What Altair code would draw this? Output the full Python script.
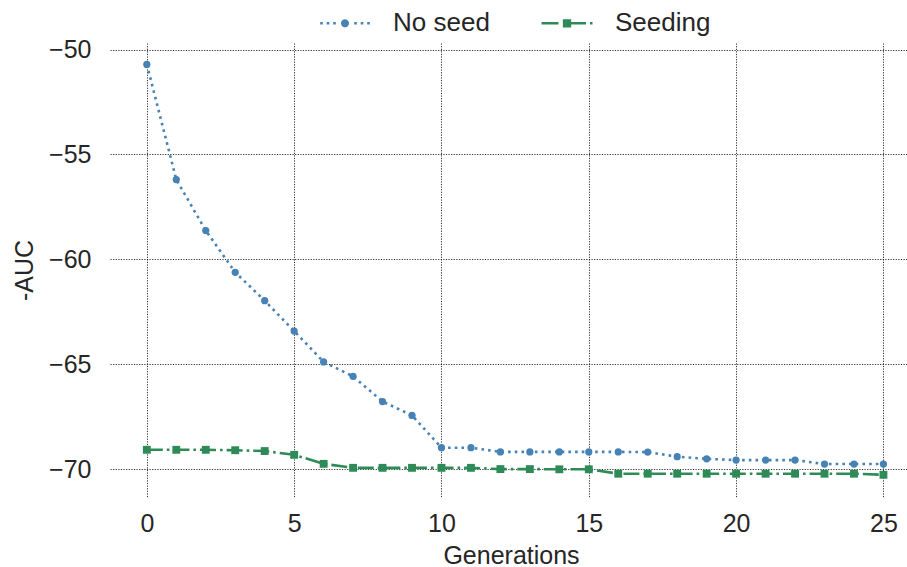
import math
import altair as alt
import pandas as pd

# ---------------- data ----------------
generations = list(range(26))
no_seed = [-50.71, -56.20, -58.63, -60.62, -61.97, -63.42, -64.89, -65.58, -66.78, -67.44,
           -68.98, -68.98, -69.18, -69.18, -69.18, -69.18, -69.18, -69.19, -69.41, -69.51,
           -69.57, -69.57, -69.57, -69.76, -69.76, -69.76]
seeding = [-69.08, -69.08, -69.08, -69.10, -69.14, -69.32, -69.75, -69.94, -69.94, -69.94,
           -69.94, -69.94, -70.00, -70.00, -70.01, -70.01, -70.22, -70.22, -70.22, -70.22,
           -70.22, -70.22, -70.22, -70.22, -70.22, -70.27]
series_names = ["No seed", "Seeding"]
x_ticks = [0, 5, 10, 15, 20, 25]
y_ticks = [-70, -65, -60, -55, -50]

df = pd.DataFrame({
    "gen": generations * 2,
    "val": no_seed + seeding,
    "series": [series_names[0]] * len(no_seed) + [series_names[1]] * len(seeding),
})

# ---------------- styles ----------------
FONT = "Liberation Sans"
TXT = "#262626"
colors = ["#4682b4", "#2e8b57"]
dashes = [[2.6, 4.1], [16, 4, 2.6, 4]]

# legend glyphs (line + marker) as SVG paths in unit space (half width 1 = 26 px)
U = 26.0


def rect(x0, x1, h):
    return "M{:.4f},{:.4f}L{:.4f},{:.4f}L{:.4f},{:.4f}L{:.4f},{:.4f}Z".format(
        x0 / U, -h / U, x1 / U, -h / U, x1 / U, h / U, x0 / U, h / U)


def circ(r, n=24):
    pts = []
    for i in range(n):
        a = 2 * math.pi * i / n
        pts.append((r * math.cos(a) / U, r * math.sin(a) / U))
    s = "M{:.4f},{:.4f}".format(*pts[0])
    for p in pts[1:]:
        s += "L{:.4f},{:.4f}".format(*p)
    return s + "Z"


path_no = "".join(rect(c - 1.3, c + 1.3, 1.3) for c in [-23.5, -17, -10.5, 10.5, 17, 23.5]) + circ(4.0)
path_seed = rect(-25.5, -8.5, 1.3) + rect(-4.15, 4.15, 4.15) + rect(4.15, 19, 1.3) + rect(23, 25.5, 1.3)

xs = alt.Scale(domain=[-1.25, 25.8], nice=False, zero=False)
ys = alt.Scale(domain=[-71.33, -49.69], nice=False, zero=False)
cs = alt.Scale(domain=series_names, range=colors)

x_axis = alt.Axis(values=x_ticks, title="Generations", grid=True, domain=False, ticks=False,
                  tickSize=0, labelPadding=14, labelFontSize=25, labelFont=FONT, labelColor=TXT,
                  titleFont=FONT, titleFontSize=25, titleFontWeight="normal", titleColor=TXT,
                  titleX=401, titleY=66, titleBaseline="alphabetic", titleAlign="center")
y_axis = alt.Axis(values=y_ticks, title="-AUC", grid=True, domain=False, ticks=False,
                  tickSize=0, labelPadding=19, labelFontSize=25, labelFont=FONT, labelColor=TXT,
                  titleFont=FONT, titleFontSize=25, titleFontWeight="normal", titleColor=TXT,
                  titleAngle=270, titleX=-86, titleY=227, titleBaseline="middle", titleAlign="center")

X = alt.X("gen:Q", scale=xs, axis=x_axis)
Y = alt.Y("val:Q", scale=ys, axis=y_axis)

base = alt.Chart(df)

leg = dict(orient="none", legendX=209, legendY=-45.7, direction="horizontal", title=None,
           symbolSize=2704, symbolStrokeWidth=0, symbolOpacity=1, labelFontSize=26, labelFont=FONT,
           labelColor=TXT, labelOffset=22, columnPadding=51, padding=0)

# invisible layer that only carries the legend (drawn first so its legend settings win)
carrier = base.mark_point(filled=True, opacity=0).encode(
    x=X, y=Y,
    color=alt.Color("series:N", scale=cs, legend=alt.Legend(**leg)),
    shape=alt.Shape("series:N", scale=alt.Scale(domain=series_names, range=[path_no, path_seed]),
                    legend=alt.Legend(**leg)),
)

lines = base.mark_line(strokeWidth=2.6, strokeCap="butt").encode(
    x=X, y=Y,
    color=alt.Color("series:N", scale=cs, legend=None),
    strokeDash=alt.StrokeDash("series:N", scale=alt.Scale(domain=series_names, range=dashes), legend=None),
)

pts_no = base.transform_filter(alt.datum.series == series_names[0]).mark_circle(size=52, opacity=1).encode(
    x=X, y=Y, color=alt.Color("series:N", scale=cs, legend=None))
pts_seed = base.transform_filter(alt.datum.series == series_names[1]).mark_square(size=62, opacity=1).encode(
    x=X, y=Y, color=alt.Color("series:N", scale=cs, legend=None))

chart = alt.layer(carrier, lines, pts_no, pts_seed).properties(
    width=797, height=454,
    autosize=alt.AutoSizeParams(type="none"),
    padding={"left": 110, "top": 43, "right": 0, "bottom": 70},
    background="white",
).configure_view(stroke=None).configure_axis(
    gridColor="black", gridDash=[1.2, 1.4], gridWidth=0.9, gridOpacity=0.9,
)

chart.save("out.html", embed_options={"renderer": "svg", "actions": False})
